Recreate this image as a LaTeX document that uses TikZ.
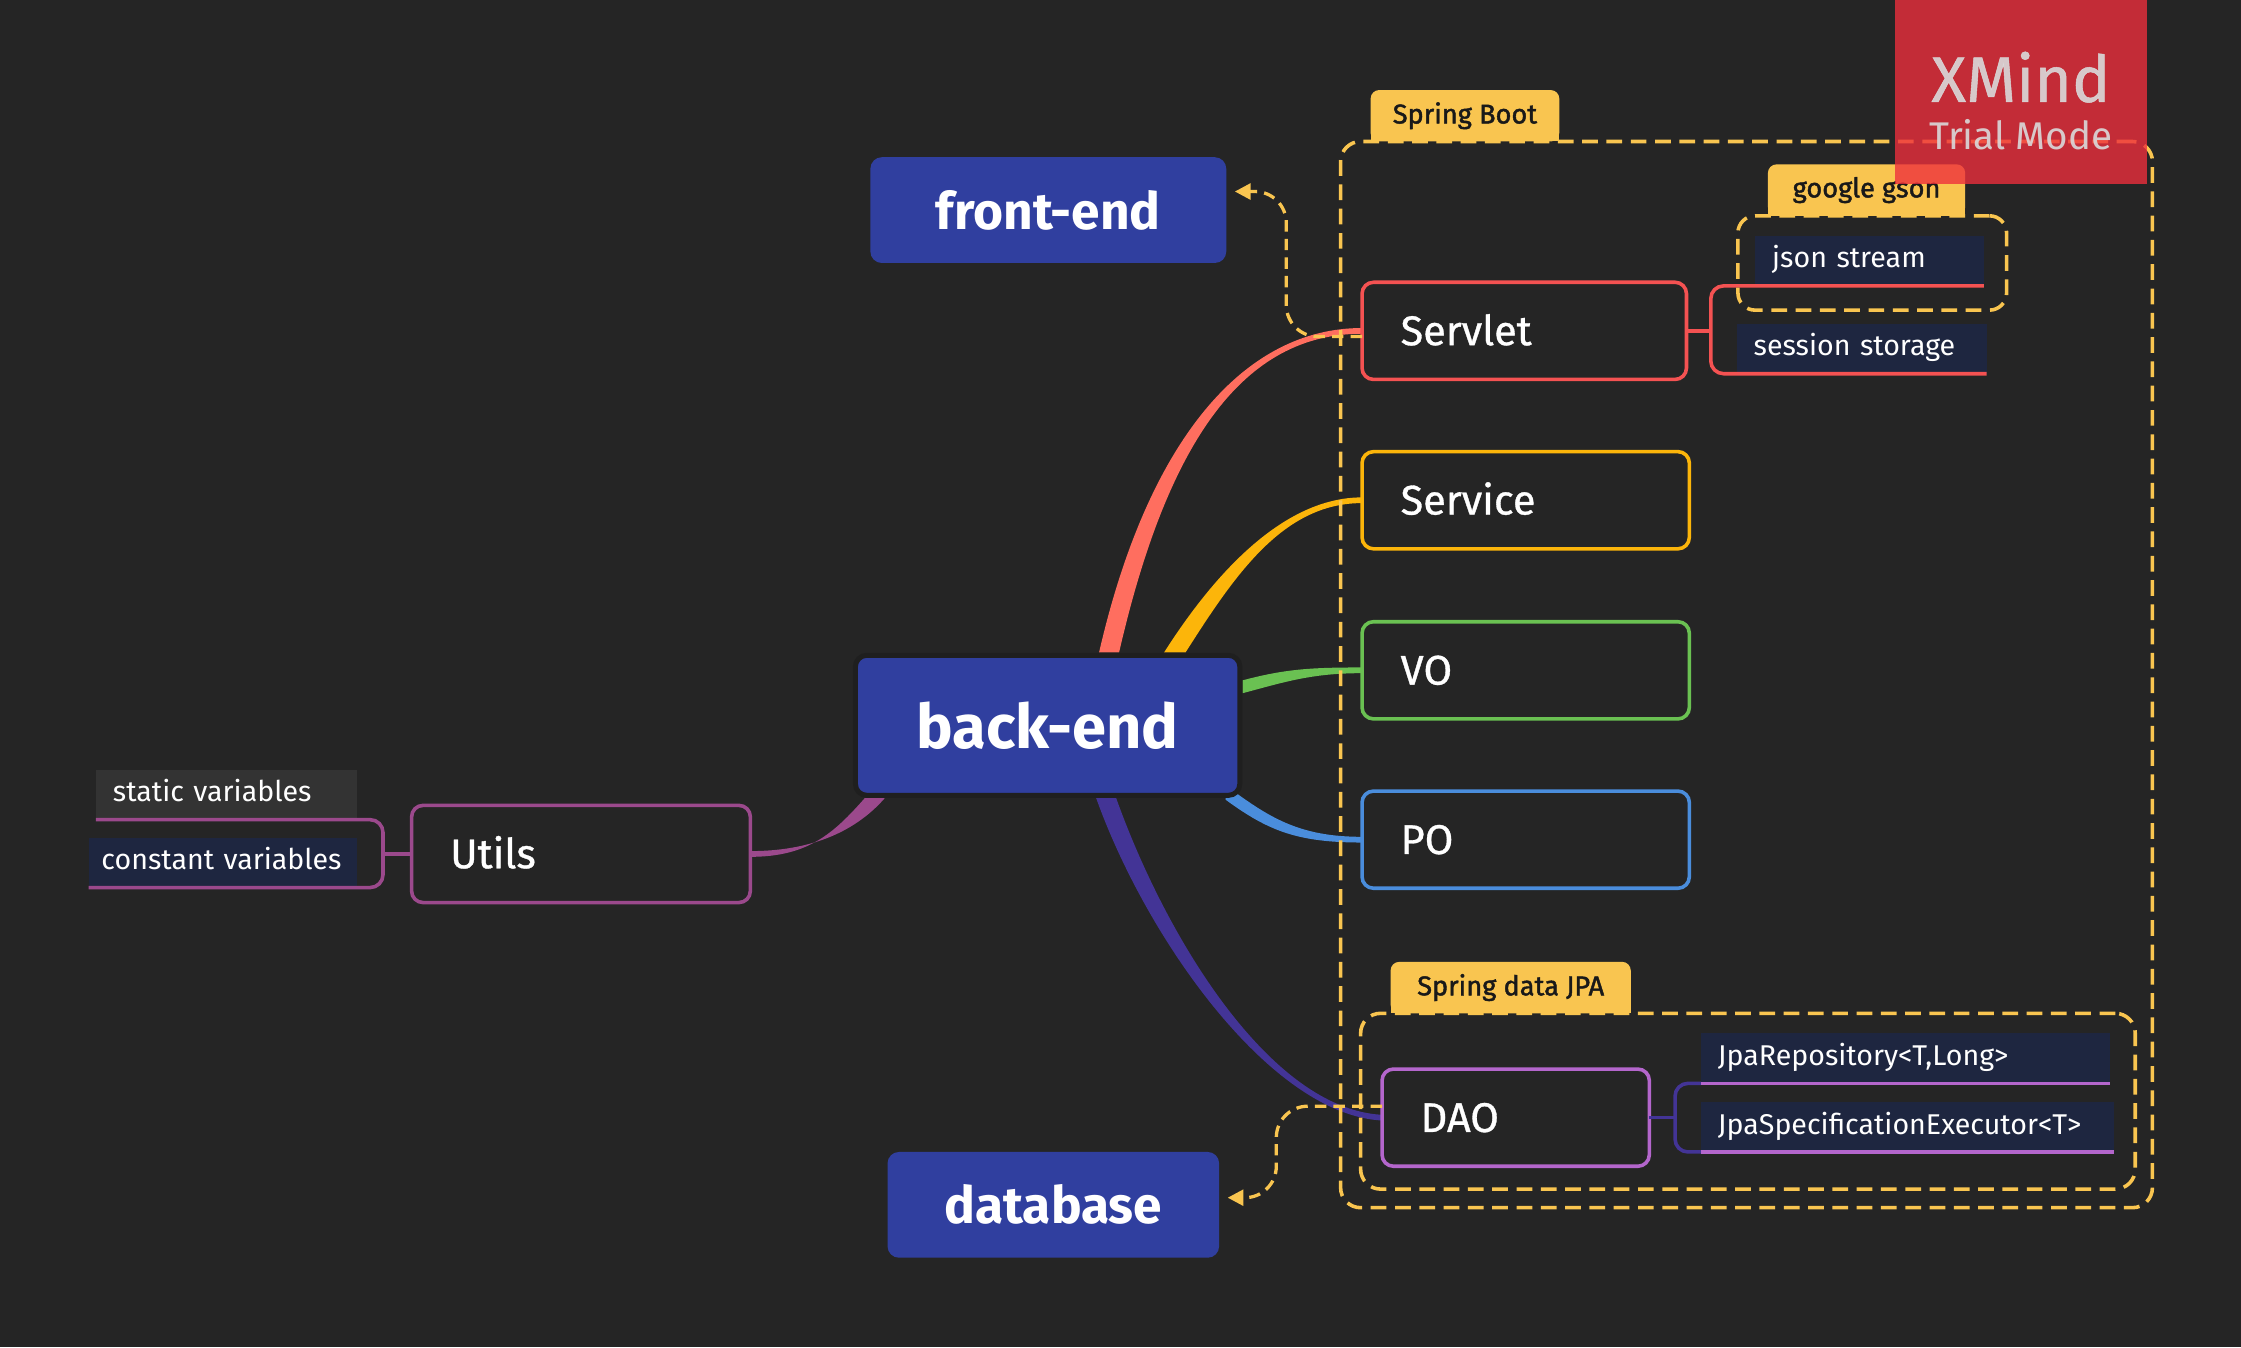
\documentclass[tikz,border=0pt]{standalone}
\usepackage{fontspec}
\setmainfont{Fira Sans}
\newfontfamily\firamedium{Fira Sans}[FakeBold=0.8]
\newfontfamily\firasemi{Fira Sans}[FakeBold=1.6]
\usetikzlibrary{arrows.meta,positioning,calc}

\pgfdeclarelayer{canvas}
\pgfdeclarelayer{links}
\pgfsetlayers{canvas,links,main}

\definecolor{canvas}{RGB}{37,37,37}
\definecolor{rootblue}{RGB}{48,63,159}
\definecolor{rim}{RGB}{31,31,31}
\definecolor{servletred}{RGB}{244,82,82}
\definecolor{servletlink}{RGB}{255,110,95}
\definecolor{serviceamber}{RGB}{252,181,10}
\definecolor{vogreen}{RGB}{106,193,82}
\definecolor{poblue}{RGB}{74,141,220}
\definecolor{daopurple}{RGB}{180,102,204}
\definecolor{daolink}{RGB}{67,52,150}
\definecolor{utilsplum}{RGB}{155,73,140}
\definecolor{labelnavy}{RGB}{30,38,64}
\definecolor{labelgrey}{RGB}{51,51,51}
\definecolor{frameamber}{RGB}{249,197,80}
\definecolor{tabink}{RGB}{25,25,25}
\definecolor{trialred}{RGB}{238,47,60}
\definecolor{trialgrey}{RGB}{218,218,218}

% tapered branch: colour, root, end, control at root, control at end, half width at root, half width at end
\newcommand\branch[7]{%
  \fill[#1] ($(#2)+#6$) .. controls +#4 and +#5 .. ($(#3)+#7$)
    -- ($(#3)-#7$) .. controls +#5 and +#4 .. ($(#2)-#6$) -- cycle;}

\begin{document}
\begin{tikzpicture}[x=1pt,y=-1pt,
  root/.style={fill=rootblue, text=white, rounded corners=8pt, outer sep=0pt,
    font=\bfseries\fontsize{36}{42}\selectfont},
  topic/.style={draw, line width=2.5pt, rounded corners=8pt, fill=canvas, text=white,
    font=\firamedium\fontsize{29}{34}\selectfont, align=left, inner xsep=27pt, inner ysep=0pt,
    minimum height=68pt, outer sep=0pt, anchor=west, text height=20pt, text depth=0pt},
  leaf/.style={fill=labelnavy, text=white, font=\fontsize{20}{24}\selectfont, align=left,
    inner xsep=12pt, inner ysep=0pt, minimum height=35pt, outer sep=0pt, anchor=south west,
    text height=14pt, text depth=4pt},
  fork/.style={draw=#1, line width=2.5pt, rounded corners=9pt},
  frame/.style={draw=frameamber, line width=2.5pt, dash pattern=on 11pt off 6pt,
    rounded corners=14pt, inner sep=0pt, outer sep=0pt, anchor=north west},
  tab/.style={fill=frameamber, rounded corners=6pt, inner sep=0pt,
    minimum height=36pt, outer sep=0pt, anchor=south west},
  tabtext/.style={text=tabink, font=\firasemi\fontsize{19}{22}\selectfont, inner sep=0pt},
  relation/.style={draw=frameamber, line width=2.3pt, dash pattern=on 8pt off 5pt,
    rounded corners=22pt, -{Triangle[length=11pt,width=11pt]}, shorten >=6pt},
]

\useasboundingbox (0,0) rectangle (1568,942.5);
\begin{pgfonlayer}{canvas}
  \fill[canvas] (0,0) rectangle (1568,942.5);
\end{pgfonlayer}

% central topics
\node[root, minimum width=249pt, minimum height=74pt] (front) at (733.5,147) {front-end};
\node[root, draw=rim, line width=3.5pt, outer sep=2pt, minimum width=269pt, minimum height=98pt,
  font=\bfseries\fontsize{43}{50}\selectfont] (back) at (733,507.5) {back-end};
\node[root, minimum width=232pt, minimum height=74pt] (db) at (737,843) {database};

% main topics
\node[topic, draw=servletred, text width=173pt] (servlet) at (953,231.5) {Servlet};
\node[topic, draw=serviceamber, text width=175pt] (service) at (953,350) {Service};
\node[topic, draw=vogreen, text width=175pt] (vo) at (953,469) {VO};
\node[topic, draw=poblue, text width=175pt] (po) at (953,587.5) {PO};
\node[topic, draw=daopurple, text width=133pt] (dao) at (967,782) {DAO};
\node[topic, draw=utilsplum, text width=183pt] (utils) at (288,597.5) {Utils};

% branches
\begin{pgfonlayer}{links}
  \branch{servletlink}{[xshift=43]back.north}{servlet.west}{(34,-148)}{(-83,0)}{(7,0)}{(0,2)}
  \branch{serviceamber}{[xshift=89]back.north}{service.west}{(35,-55)}{(-55,0)}{(7.5,0)}{(0,2)}
  \branch{vogreen}{[yshift=27]back.east}{vo.west}{(30,-8)}{(-35,0)}{(0,4.5)}{(0,2)}
  \branch{poblue}{[xshift=-12,yshift=4]back.south east}{po.west}{(30,22)}{(-45,0)}{(0,5)}{(0,2)}
  \branch{daolink}{[xshift=41]back.south}{dao.west}{(35,98)}{(-78,-4)}{(7,0)}{(0,-2)}
  \branch{utilsplum}{[xshift=-121]back.south}{utils.east}{(-22,25)}{(40,0)}{(7,0)}{(0,-2)}
\end{pgfonlayer}

% sub topics
\node[leaf, text width=136pt] (json) at (1228,200) {json stream};
\node[leaf, text width=151pt] (session) at (1215,261.5) {session storage};
\node[leaf, text width=262pt] (repo) at (1190,758) {JpaRepository<T,Long>};
\node[leaf, text width=265pt] (spec) at (1190,806) {JpaSpecificationExecutor<T>};
\node[leaf, fill=labelgrey, text width=159pt] (static) at (67,573.5) {static variables};
\node[leaf, inner xsep=9pt, text width=170pt] (const) at (62,621) {constant variables};

\coordinate (sfork) at ([xshift=17]servlet.east);
\coordinate (dfork) at ([xshift=18]dao.east);
\coordinate (ufork) at ([xshift=-20]utils.west);

\draw[fork=servletred] (servlet.east) -- (sfork);
\draw[fork=servletred] (json.south east) -- (json.south west) -| (sfork) |- (session.south west) -- (session.south east);
\draw[fork=daolink] (dao.east) -- (dfork);
\draw[fork=daolink] (repo.south west) -| (dfork) |- (spec.south west);
\draw[fork=daopurple] (repo.south west) -- (repo.south east);
\draw[fork=daopurple] (spec.south west) -- (spec.south east);
\draw[fork=utilsplum] (utils.west) -- (ufork);
\draw[fork=utilsplum] (static.south west) -- (static.south east) -| (ufork) |- (const.south east) -- (const.south west);

% boundaries
\node[frame, minimum width=568pt, minimum height=746pt] (sb) at (938,99) {};
\node[frame, rounded corners=12pt, minimum width=188pt, minimum height=66pt] (gson) at (1216,151) {};
\node[frame, minimum width=542pt, minimum height=123pt] (jpa) at (952,709) {};

\node[tab, minimum width=132pt] (sbtab) at ([xshift=21]sb.north west) {};
\fill[frameamber] (sbtab.west) rectangle (sbtab.south east);
\node[tabtext] at (sbtab.center) {Spring Boot};
\node[tab, minimum width=138pt] (gsontab) at ([xshift=21]gson.north west) {};
\fill[frameamber] (gsontab.west) rectangle (gsontab.south east);
\node[tabtext] at (gsontab.center) {google gson};
\node[tab, minimum width=168pt] (jpatab) at ([xshift=21]jpa.north west) {};
\fill[frameamber] (jpatab.west) rectangle (jpatab.south east);
\node[tabtext] at (jpatab.center) {Spring data JPA};

% relationships
\draw[relation] ([yshift=-4]servlet.west) -| ([xshift=42,yshift=13]front.east) -- ([yshift=13]front.east);
\draw[relation] ([yshift=8]dao.west) -| ([xshift=40,yshift=5]db.east) -- ([yshift=5]db.east);

% watermark
\node[fill=trialred, fill opacity=.79, minimum width=176pt, minimum height=129pt,
  anchor=north west, outer sep=0pt] (trial) at (1326,0) {};
\node[text=trialgrey, text opacity=.9, font=\firamedium\fontsize{45}{50}\selectfont] (xm) at ([yshift=-54]trial.north) {XMind};
\node[text=trialgrey, text opacity=.9, font=\fontsize{27}{32}\selectfont] (tm) at ([yshift=-94]trial.north) {Trial Mode};

\end{tikzpicture}
\end{document}
